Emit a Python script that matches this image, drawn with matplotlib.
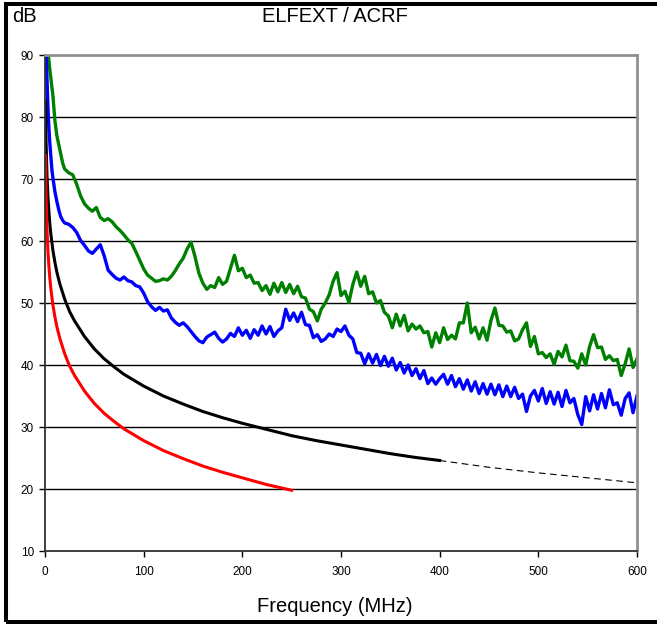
import numpy as np
import matplotlib
matplotlib.use('Agg')
import matplotlib.pyplot as plt
from matplotlib.patches import Rectangle

plt.rcParams['font.family'] = ['Liberation Sans', 'DejaVu Sans']

# limit lines
black_f = [0.5, 1, 2, 3, 4, 5, 6, 8, 10, 12, 15, 20, 25, 30, 40, 50, 60, 70, 80,
           100, 120, 140, 160, 180, 200, 225, 250, 275, 300, 325, 350, 375, 400]
black_db = [82.6, 76.6, 70.6, 67.1, 64.6, 62.6, 61.0, 58.5, 56.6, 55.0, 53.1, 50.6,
            48.6, 47.1, 44.6, 42.6, 41.0, 39.7, 38.5, 36.6, 35.0, 33.7, 32.5, 31.5,
            30.6, 29.6, 28.6, 27.8, 27.1, 26.4, 25.7, 25.1, 24.6]
dash_f = [400, 450, 500, 550, 600]
dash_db = [24.6, 23.5, 22.6, 21.8, 21.0]

red_f = [0.5, 1, 2, 3, 4, 5, 6, 8, 10, 12, 15, 20, 25, 30, 40, 50, 60, 70, 80,
         100, 120, 140, 160, 180, 200, 225, 250]
red_db = [73.8, 67.8, 61.8, 58.3, 55.8, 53.8, 52.2, 49.7, 47.8, 46.2, 44.3, 41.8,
          39.8, 38.3, 35.8, 33.8, 32.2, 30.9, 29.7, 27.8, 26.2, 24.9, 23.7, 22.7,
          21.8, 20.7, 19.8]

# measured curves
blue_f0 = [1, 2, 3, 4, 5, 6, 7, 8, 10, 12, 14, 16, 18, 20]
blue_db0 = [91, 86, 81.5, 78, 75.5, 73.5, 71.5, 70.2, 68, 66.4, 65, 63.9, 63.3, 62.9]
blue_db = [
    62.7, 62.2, 61.4, 60.1, 59.3, 58.4, 58.0, 58.7, 59.4, 57.6,
    55.3, 54.6, 54.0, 53.7, 54.2, 53.6, 53.4, 52.8, 52.6, 51.6,
    50.2, 49.4, 48.8, 49.3, 48.7, 48.9, 47.6, 46.9, 46.4, 46.8,
    46.2, 45.4, 44.6, 43.9, 43.6, 44.5, 44.9, 45.3, 44.3, 43.7,
    44.2, 45.1, 44.6, 46.0, 44.8, 45.6, 44.3, 45.7, 44.8, 46.3,
    45.0, 46.2, 44.6, 45.5, 46.0, 49.0, 47.2, 48.4, 47.0, 48.5,
    46.5, 46.4, 44.4, 44.9, 43.8, 44.2, 45.0, 44.6, 45.8, 45.4,
    46.3, 44.8, 44.2, 42.0, 41.9, 40.2, 41.8, 40.3, 41.7, 39.9,
    41.4, 39.8, 41.1, 39.2, 40.4, 38.7, 40.0, 38.3, 39.4, 37.8,
    39.1, 37.0, 37.9, 36.9, 37.8, 38.5, 36.9, 38.3, 36.5, 37.8,
    36.1, 37.6, 35.8, 37.3, 35.4, 37.0, 35.3, 36.9, 35.2, 36.8,
    34.9, 36.6, 34.9, 36.4, 34.6, 35.3, 32.5, 35.0, 35.9, 34.2,
    36.2, 33.8, 35.7, 33.7, 35.6, 33.3, 35.9, 33.9, 34.6, 32.0,
    30.4, 34.9, 32.6, 35.2, 32.9, 35.4, 33.1, 36.0, 33.6, 33.9,
    31.9, 34.6, 35.5, 32.3, 35.0]

green_f0 = [2, 3, 4, 5, 6, 7, 8, 10, 12, 14, 16, 18, 20]
green_db0 = [95, 91, 89, 87.5, 86.2, 85, 83.5, 79.5, 77, 75.5, 74, 72.5, 71.6]
green_db = [
    71.0, 70.7, 69.2, 67.3, 66.0, 65.3, 64.8, 65.4, 63.8, 63.3,
    63.6, 63.1, 62.3, 61.7, 61.0, 60.2, 59.6, 58.3, 56.9, 55.5,
    54.5, 54.0, 53.5, 53.6, 53.9, 53.7, 54.3, 55.2, 56.3, 57.2,
    58.7, 59.8, 57.5, 54.8, 53.2, 52.2, 52.8, 52.5, 54.1, 53.0,
    53.5, 55.6, 57.7, 55.2, 55.6, 54.1, 54.5, 53.2, 53.3, 52.0,
    52.8, 51.4, 53.2, 51.8, 53.3, 51.7, 53.0, 51.5, 52.7, 51.0,
    50.8, 49.0, 48.6, 47.1, 49.0, 50.0, 51.3, 53.5, 54.9, 51.2,
    51.9, 50.1, 53.0, 55.0, 52.7, 54.3, 51.5, 51.8, 50.0, 50.4,
    48.5, 47.9, 46.0, 48.2, 46.3, 48.0, 45.5, 46.6, 45.8, 46.3,
    45.2, 45.4, 42.9, 45.2, 43.6, 46.0, 44.1, 44.8, 44.2, 46.8,
    46.8, 50.0, 45.2, 46.1, 44.2, 46.0, 44.0, 47.2, 49.2, 46.4,
    46.3, 45.3, 45.5, 43.9, 44.2, 45.7, 46.8, 43.0, 44.6, 41.8,
    42.0, 41.2, 41.8, 40.1, 42.2, 41.3, 43.2, 40.7, 40.6, 39.5,
    41.8, 40.0, 43.0, 44.9, 42.8, 42.9, 40.9, 41.5, 40.7, 40.9,
    38.3, 40.2, 42.6, 39.6, 41.0]

step_f = list(np.arange(24, 601, 4))
blue_f = blue_f0 + step_f
blue_all = blue_db0 + blue_db
green_f = green_f0 + step_f
green_all = green_db0 + green_db

fig = plt.figure(figsize=(6.57, 6.24), dpi=100)
ax = fig.add_axes([45/657, 73/624, 592/657, 496/624])

ax.plot(green_f, green_all, color='#008000', lw=2.4)
ax.plot(blue_f, blue_all, color='#0000ff', lw=2.4)
ax.plot(black_f, black_db, color='black', lw=2.2)
ax.plot(dash_f, dash_db, color='black', lw=0.8, ls=(0, (6, 4)))
ax.plot(red_f, red_db, color='#ff0000', lw=2.2)

ax.set_xlim(0, 600)
ax.set_ylim(10, 90)
ax.set_xticks(range(0, 601, 100))
ax.set_yticks(range(10, 91, 10))
for y in range(20, 90, 10):
    ax.axhline(y, color='black', lw=1, zorder=0)

ax.tick_params(labelsize=8.5, length=4, width=1, direction='out', pad=4)
ax.tick_params(axis='x', pad=7)
for s in ['left', 'bottom']:
    ax.spines[s].set_color('#303030')
    ax.spines[s].set_linewidth(1.3)
for s in ['top', 'right']:
    ax.spines[s].set_color('#909090')
    ax.spines[s].set_linewidth(2)

fig.text(335/657, 1 - 17/624, 'ELFEXT / ACRF', ha='center', va='center', fontsize=14.5)
fig.text(12/657, 1 - 17/624, 'dB', ha='left', va='center', fontsize=14.5)
fig.text(335/657, 1 - 607/624, 'Frequency (MHz)', ha='center', va='center', fontsize=14.5)

fig.patches.append(Rectangle((5.5/657, 2.5/624), 2, 1 - 6/624, transform=fig.transFigure,
                             fill=False, edgecolor='black', lw=2.9))

fig.savefig('out.png', dpi=100)
